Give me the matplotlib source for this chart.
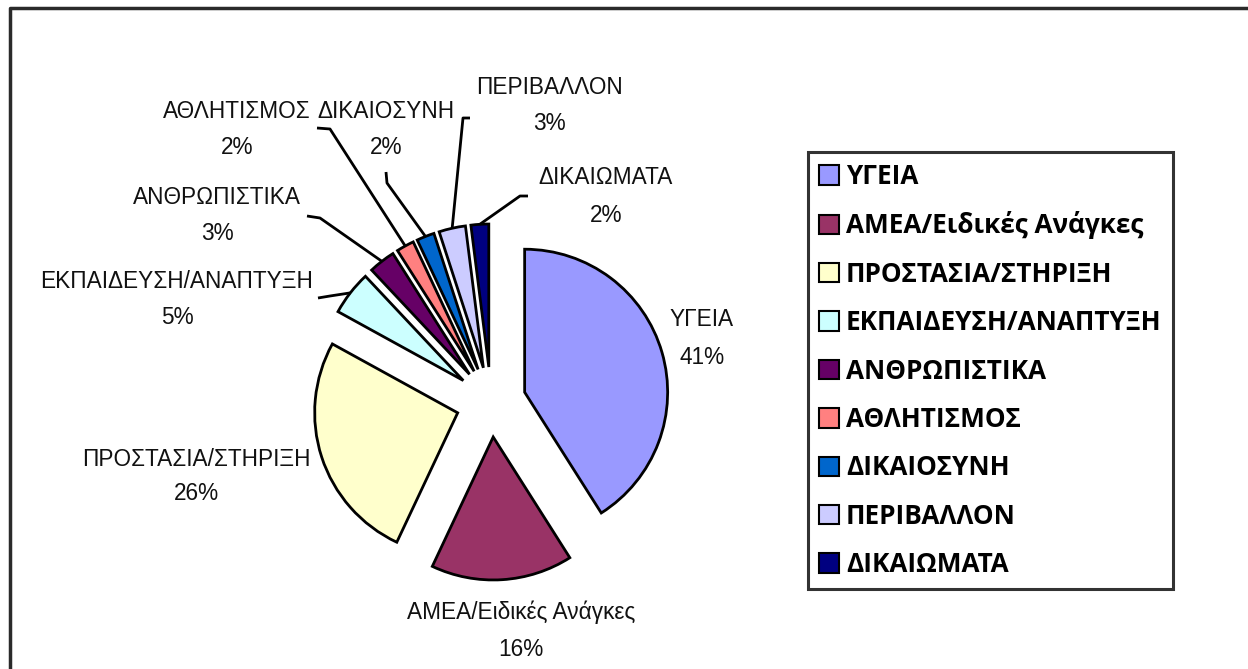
import matplotlib
matplotlib.use('Agg')
import numpy as np
from matplotlib import pyplot as plt

# data
categories = ['ΥΓΕΙΑ', 'ΑΜΕΑ/Ειδικές Ανάγκες', 'ΠΡΟΣΤΑΣΙΑ/ΣΤΗΡΙΞΗ',
              'ΕΚΠΑΙΔΕΥΣΗ/ΑΝΑΠΤΥΞΗ', 'ΑΝΘΡΩΠΙΣΤΙΚΑ', 'ΑΘΛΗΤΙΣΜΟΣ',
              'ΔΙΚΑΙΟΣΥΝΗ', 'ΠΕΡΙΒΑΛΛΟΝ', 'ΔΙΚΑΙΩΜΑΤΑ']
percent = [41, 16, 26, 5, 3, 2, 2, 3, 2]
colors = ['#9999FF', '#993366', '#FFFFCC', '#CCFFFF', '#660066',
          '#FF8080', '#0066CC', '#CCCCFF', '#000080']

W, H = 1248, 669
cx, cy, r = 491, 402, 143  # pie centre / radius in pixels (y from top)

fig = plt.figure(figsize=(W / 100, H / 100), dpi=100)
ax = fig.add_axes([0, 0, 1, 1])

def px(x, y):
    # pixel position -> data units of the pie (radius 1)
    return (x - cx) / r, (cy - y) / r

wedges, _ = ax.pie(percent, colors=colors, explode=[0.245] * len(percent),
                   startangle=90, counterclock=False, radius=1,
                   wedgeprops=dict(edgecolor='black', linewidth=2))
ax.set_xlim(-cx / r, (W - cx) / r)
ax.set_ylim((cy - H) / r, cy / r)
ax.set_aspect('auto')
ax.axis('off')

label_font = ['Liberation Sans', 'DejaVu Sans']
# label positions (pixels): name line centre, pct line centre
label_pos = {
    0: (702, 320, 357),
    1: (521, 612, 650),
    2: (196, 459, 493),
    3: (177, 282, 318),
    4: (217, 198, 234),
    5: (237, 112, 148),
    6: (386, 112, 148),
    7: (549, 87, 123),
    8: (606, 178, 215),
}
for i, (x, y1, y2) in label_pos.items():
    ax.text(*px(x, y1), categories[i], ha='center', va='center',
            fontsize=16.3, family=label_font, color='#111111')
    ax.text(*px(x, y2), f'{percent[i]}%', ha='center', va='center',
            fontsize=16.3, family=label_font, color='#111111')

# leader lines: start point and elbow in pixels, end on the wedge arc
leaders = {
    3: [(318, 298), (330, 296)],
    4: [(307, 216), (320, 218)],
    5: [(317, 128), (330, 129)],
    6: [(386, 172), (387, 183)],
    7: [(470, 118), (463, 118)],
    8: [(528, 196), (520, 196)],
}
for i, pts in leaders.items():
    w = wedges[i]
    tm = np.deg2rad((w.theta1 + w.theta2) / 2)
    ex = w.center[0] + w.r * np.cos(tm)
    ey = w.center[1] + w.r * np.sin(tm)
    xs = [px(*p)[0] for p in pts] + [ex]
    ys = [px(*p)[1] for p in pts] + [ey]
    ax.plot(xs, ys, color='black', lw=2, solid_capstyle='butt')

# outer frame (cut off at right/bottom)
bx = [px(10, H + 10), px(10, 8), px(W + 10, 8)]
ax.plot([p[0] for p in bx], [p[1] for p in bx], color='#2a2a2a', lw=2.5,
        clip_on=False)

leg = ax.legend(wedges, categories, loc='upper left',
                bbox_to_anchor=(808 / W, 1 - 152 / H),
                bbox_transform=fig.transFigure, borderaxespad=0,
                frameon=True, fancybox=False, edgecolor='black',
                prop=dict(family=['Open Sans', 'DejaVu Sans'], weight='bold', size=18.8),
                handlelength=0.77, handleheight=0.77, handletextpad=0.27,
                labelspacing=0.82, borderpad=0.42)
leg.get_frame().set_linewidth(2.2)
for h in leg.legend_handles:
    h.set_edgecolor('black')
    h.set_linewidth(1.5)

fig.savefig('out.png', dpi=100)
